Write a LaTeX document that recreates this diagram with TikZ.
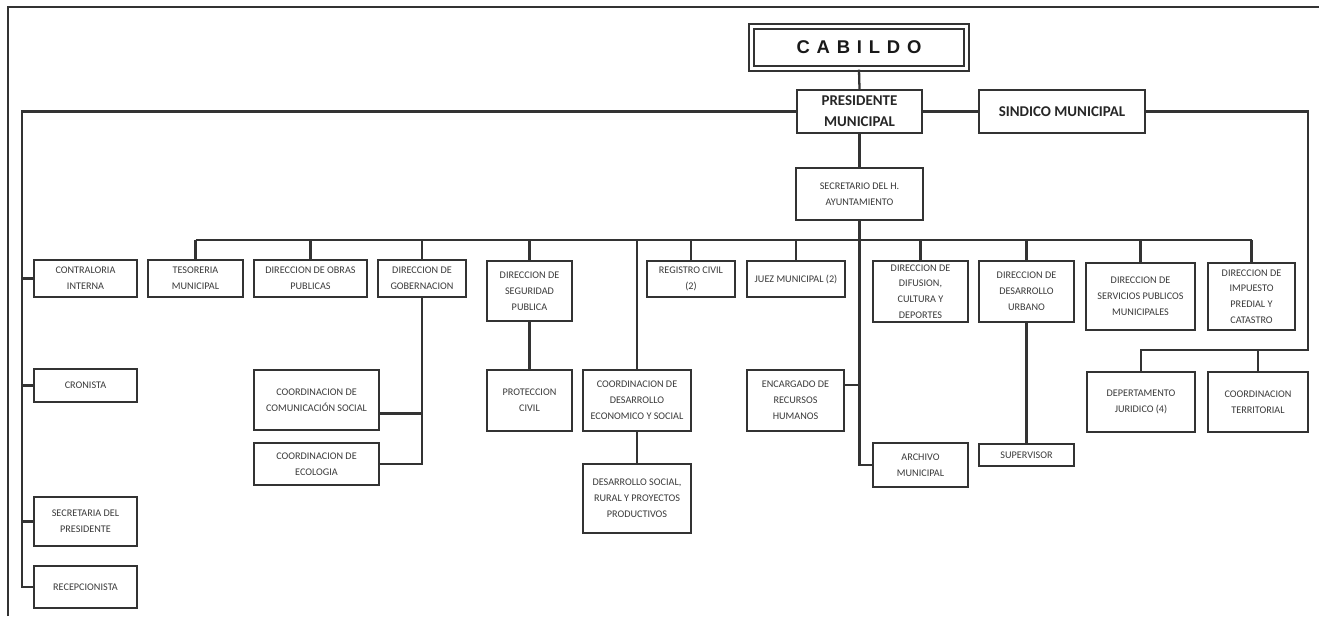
\documentclass[tikz,border=0pt]{standalone}
\usepackage{fontspec}
\setmainfont{Carlito}
\newfontfamily\cabfont{Liberation Sans}[LetterSpace=37]
\usepackage{tikz}
\usetikzlibrary{calc}
\definecolor{chartline}{HTML}{333333}
\definecolor{charttext}{HTML}{3A3A3A}

\tikzset{
  orgbox/.style={draw=chartline, line width=1.3pt, fill=white, align=center,
    inner sep=1pt, text=charttext, font=\fontsize{5.8}{9}\selectfont},
  boxsize/.style 2 args={minimum width=#1*0.02cm, minimum height=#2*0.02cm},
  topbox/.style={font=\bfseries\fontsize{8.5}{12}\selectfont, text=black!85},
  link/.style={draw=chartline, line width=1.3pt}
}

\begin{document}
\begin{tikzpicture}[x=0.02cm, y=-0.02cm]
  \useasboundingbox (0,0) rectangle (1319,616);
  % page frame (top and left edge only)
  \draw[chartline, line width=0.8pt] (8,616) -- (8,7) -- (1319,7);

  % head
  \node[orgbox, boxsize={215}{42}, double=white, double distance=1.5pt, line width=1.3pt,
    font={\cabfont\bfseries\fontsize{10.5}{12}\selectfont}, text=black!90] (cab) at (859,47.5) {CABILDO};
  \node[orgbox, topbox, boxsize={125}{43}] (pres) at (859.5,111.5) {PRESIDENTE\\MUNICIPAL};
  \node[orgbox, topbox, boxsize={166}{43}] (sind) at (1062,111.5) {SINDICO MUNICIPAL};
  \node[orgbox, boxsize={127}{52}] (sec) at (859.5,194) {SECRETARIO DEL H.\\AYUNTAMIENTO};

  % staff on the left
  \node[orgbox, boxsize={103}{37}] (contr) at (85.5,278.5) {CONTRALORIA\\INTERNA};
  \node[orgbox, boxsize={103}{33}] (cron) at (85.5,385.5) {CRONISTA};
  \node[orgbox, boxsize={103}{49}] (secp) at (85.5,521.5) {SECRETARIA DEL\\PRESIDENTE};
  \node[orgbox, boxsize={103}{42}] (recep) at (85.5,587) {RECEPCIONISTA};

  % first row
  \node[orgbox, boxsize={95}{37}] (tes) at (195.5,278.5) {TESORERIA\\MUNICIPAL};
  \node[orgbox, boxsize={113}{37}] (obr) at (310.5,278.5) {DIRECCION DE OBRAS\\PUBLICAS};
  \node[orgbox, boxsize={88}{37}] (gob) at (422,278.5) {DIRECCION DE\\GOBERNACION};
  \node[orgbox, boxsize={85}{60}] (seg) at (529.5,291) {DIRECCION DE\\SEGURIDAD\\PUBLICA};
  \node[orgbox, boxsize={88}{36}] (reg) at (691,279) {REGISTRO CIVIL\\(2)};
  \node[orgbox, boxsize={98}{36}] (juez) at (796,279) {JUEZ MUNICIPAL (2)};
  \node[orgbox, boxsize={95}{61}] (dif) at (920.5,291.5) {DIRECCION DE\\DIFUSION,\\CULTURA Y\\DEPORTES};
  \node[orgbox, boxsize={95}{61}] (urb) at (1026.5,291.5) {DIRECCION DE\\DESARROLLO\\URBANO};
  \node[orgbox, boxsize={109}{67}] (serv) at (1140.5,296.5) {DIRECCION DE\\SERVICIOS PUBLICOS\\MUNICIPALES};
  \node[orgbox, boxsize={87}{67}] (imp) at (1251.5,296.5) {DIRECCION DE\\IMPUESTO\\PREDIAL Y\\CATASTRO};

  % lower levels
  \node[orgbox, boxsize={125}{60}] (ccs) at (316.5,400) {COORDINACION DE\\COMUNICACIÓN SOCIAL};
  \node[orgbox, boxsize={125}{42}] (eco) at (316.5,464) {COORDINACION DE\\ECOLOGIA};
  \node[orgbox, boxsize={85}{61}] (prot) at (529.5,400.5) {PROTECCION\\CIVIL};
  \node[orgbox, boxsize={108}{61}] (cdes) at (637,400.5) {COORDINACION DE\\DESARROLLO\\ECONOMICO Y SOCIAL};
  \node[orgbox, boxsize={108}{69}] (dsoc) at (637,498.5) {DESARROLLO SOCIAL,\\RURAL Y PROYECTOS\\PRODUCTIVOS};
  \node[orgbox, boxsize={97}{61}] (rh) at (795.5,400.5) {ENCARGADO DE\\RECURSOS\\HUMANOS};
  \node[orgbox, boxsize={95}{44}] (arch) at (920.5,465) {ARCHIVO\\MUNICIPAL};
  \node[orgbox, boxsize={95}{22}] (sup) at (1026.5,455) {SUPERVISOR};
  \node[orgbox, boxsize={108}{60}] (jur) at (1141,402) {DEPERTAMENTO\\JURIDICO (4)};
  \node[orgbox, boxsize={100}{60}] (terr) at (1258,402) {COORDINACION\\TERRITORIAL};

  % bus lines
  \coordinate (lft) at (22,111.5);
  \coordinate (jbus) at (1308,350);
  \coordinate (bus) at (859.5,240);

  % connectors
  \draw[link] (cab.south) -- (pres.north);
  \draw[link] (pres.south) -- (sec.north);
  \draw[link] (pres.east) -- (sind.west);
  \draw[link] (pres.west) -- (lft) |- (recep.west);
  \foreach \n in {contr,cron,secp}
    \draw[link] (\n.west) -- (\n.west -| lft);
  \draw[link] (sind.east) -| (jbus) -| (jur.north);
  \draw[link] (terr.north) -- (terr.north |- jbus);
  \draw[link] (tes.north |- bus) -- (imp.north |- bus);
  \foreach \n in {tes,obr,gob,seg,reg,juez,dif,urb,serv,imp,cdes}
    \draw[link] (\n.north) -- (\n.north |- bus);
  \draw[link] (sec.south) |- (arch.west);
  \draw[link] (rh.17.7) -- (rh.17.7 -| sec.south);
  \draw[link] (gob.south) |- (eco.east);
  \draw[link] (ccs.-12.6) -- (ccs.-12.6 -| gob.south);
  \draw[link] (seg.south) -- (prot.north);
  \draw[link] (cdes.south) -- (dsoc.north);
  \draw[link] (urb.south) -- (sup.north);
\end{tikzpicture}
\end{document}
